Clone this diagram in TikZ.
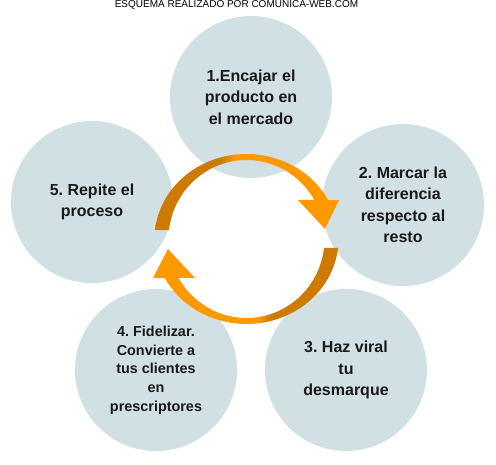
\documentclass[tikz,border=0pt]{standalone}
\usepackage{fontspec}
\setmainfont{Liberation Sans}
\frenchspacing
\definecolor{bubblefill}{RGB}{209,224,227}
\definecolor{arrdark}{RGB}{204,122,0}
\definecolor{arrlight}{RGB}{255,153,0}
\pgfdeclarehorizontalshading{ringshade}{100bp}{color(0bp)=(arrdark); color(43bp)=(arrdark); color(47bp)=(arrlight); color(100bp)=(arrlight)}
\tikzset{
  bubble/.style={circle, fill=bubblefill, minimum size=162pt, inner sep=0pt, align=center,
    font=\fontsize{16}{21.5}\selectfont\bfseries, text=black!90},
}
\begin{document}
\begin{tikzpicture}[x=1pt, y=1pt]
    \useasboundingbox (0,0) rectangle (496,464);
    \node[anchor=base, font=\fontsize{10}{12}\selectfont] (title) at (236.5,456.5) {ESQUEMA REALIZADO POR COMUNICA-WEB.COM};
    \node[bubble] (s1) at (251,367) {1.Encajar el\\producto en\\el mercado};
    \node[bubble] (s2) at (403,259) {2. Marcar la\\diferencia\\respecto al\\resto};
    \node[bubble] (s3) at (346,94) {3. Haz viral\\tu\\desmarque};
    \node[bubble, font=\fontsize{14.4}{18.7}\selectfont\bfseries] (s4) at (156,94) {4. Fidelizar.\\Convierte a\\tus clientes\\en\\prescriptores};
    \node[bubble] (s5) at (92,262) {5. Repite el\\proceso};
    \coordinate (ring) at (246.5,225);
    \begin{scope}[shift={(ring)}]
        % top arrow: from 5 round to 2
        \shade[shading=ringshade] (-91.5,9) arc[start angle=173.9, end angle=27.3, x radius=92pt, y radius=85pt]
            -- (92.5,39) -- (78.5,10) -- (51.5,39) -- (67.8,39)
            arc[start angle=29.6, end angle=173.5, x radius=78pt, y radius=79pt] -- cycle;
        % bottom arrow: from 2 round to 5
        \shade[shading=ringshade, shading angle=180] (91.5,-9) arc[start angle=353.9, end angle=207.3, x radius=92pt, y radius=85pt]
            -- (-93.5,-39) -- (-78.5,-10) -- (-51.5,-39) -- (-67.8,-39)
            arc[start angle=209.6, end angle=353.5, x radius=78pt, y radius=79pt] -- cycle;
    \end{scope}
\end{tikzpicture}
\end{document}
